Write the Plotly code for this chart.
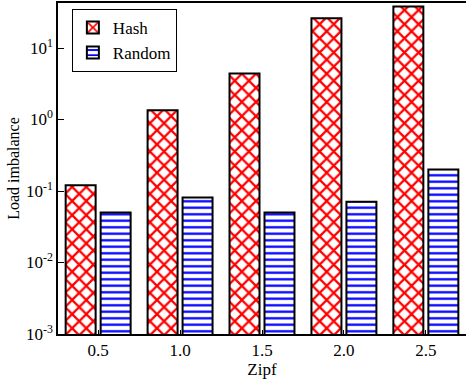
import plotly.graph_objects as go

zipf = ["0.5", "1.0", "1.5", "2.0", "2.5"]
hash_vals = [0.12, 1.35, 4.4, 26, 38]
random_vals = [0.05, 0.081, 0.05, 0.071, 0.2]
ytick_vals = [1e-3, 1e-2, 1e-1, 1, 10]
ytick_text = ["10<sup>-3</sup>", "10<sup>-2</sup>", "10<sup>-1</sup>", "10<sup>0</sup>", "10<sup>1</sup>"]

FONT = "Liberation Serif, Times New Roman, serif"

fig = go.Figure()
fig.add_trace(go.Bar(
    x=zipf, y=hash_vals, name="Hash",
    marker=dict(color="white", line=dict(color="black", width=2),
                pattern=dict(shape="x", fgcolor="red", bgcolor="white", fgopacity=1,
                             size=10, solidity=0.4)),
))
fig.add_trace(go.Bar(
    x=zipf, y=random_vals, name="Random",
    marker=dict(color="white", line=dict(color="black", width=2),
                pattern=dict(shape="-", fgcolor="blue", bgcolor="white", fgopacity=1,
                             size=6.5, solidity=0.35)),
))

fig.update_layout(
    width=466, height=382,
    margin=dict(l=58, r=0, t=3, b=48, autoexpand=False),
    barmode="group", bargap=0.146, bargroupgap=0.143,
    plot_bgcolor="white", paper_bgcolor="white",
    font=dict(family=FONT, size=17, color="black"),
    showlegend=True,
    legend=dict(x=0.034, y=0.982, xanchor="left", yanchor="top",
                bordercolor="black", borderwidth=1, bgcolor="white",
                font=dict(family=FONT, size=17), tracegroupgap=0, itemwidth=30),
    xaxis=dict(type="category", range=[-0.49, 4.49], showline=True, linecolor="black", linewidth=1.5,
               mirror=True, ticks="inside", ticklen=4, tickcolor="black", showgrid=False,
               automargin=False, tickfont=dict(family=FONT, size=17),
               title=dict(text="Zipf", standoff=0, font=dict(family=FONT, size=17))),
    yaxis=dict(type="log", range=[-3, 1.63], showline=True, linecolor="black", linewidth=1.5,
               mirror=True, ticks="inside", ticklen=6, tickcolor="black", showgrid=False,
               automargin=False, tickfont=dict(family=FONT, size=17),
               tickvals=ytick_vals, ticktext=ytick_text,
               title=dict(text="Load imbalance", standoff=2, font=dict(family=FONT, size=16))),
)

fig.write_html(
    "out.html",
    config={"responsive": False, "displayModeBar": False},
    post_script="document.body.style.margin='0px';document.body.style.padding='0px';document.body.style.overflow='hidden';",
)
